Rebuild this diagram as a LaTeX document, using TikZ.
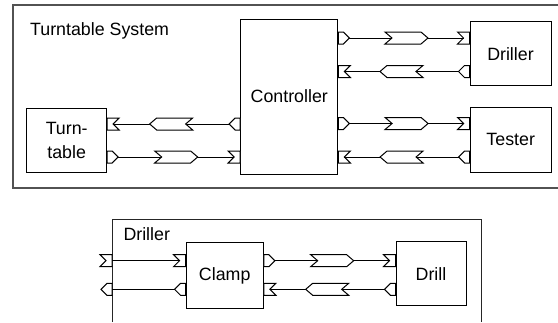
\documentclass[tikz,border=0pt]{standalone}
\usepackage{fontspec}
\setmainfont{Liberation Sans}
\usetikzlibrary{calc}

\tikzset{
  block/.style={draw, line width=1pt, fill=white, inner sep=0pt, align=center,
    font=\fontsize{17.8}{24}\selectfont},
  title/.style={inner sep=0pt, anchor=base west, font=\fontsize{17.8}{21}\selectfont},
  port/.style={draw, line width=1pt, fill=white, line join=miter},
  wire/.style={line width=1pt},
  sysframe/.style={draw=black!68, line width=2pt},
  subframe/.style={draw=black!85, line width=1pt},
  % port leaving a box, pointing along +x
  outport/.pic={
    \draw[port] (0,-6) -- (5,-6) -- (11,0) -- (5,6) -- (0,6) -- cycle;
    \coordinate (-tip) at (11,0);
    \coordinate (-base) at (0,0);
  },
  % port entering a box, signal along +x
  inport/.pic={
    \draw[port] (0,-6) -- (-12,-6) -- (-6,0) -- (-12,6) -- (0,6) -- cycle;
    \coordinate (-tip) at (-6,0);
    \coordinate (-base) at (0,0);
  },
  % signal marker on a wire
  signal/.pic={
    \draw[port] (-21.5,-6) -- (14.5,-6) -- (21.5,0) -- (14.5,6) -- (-21.5,6) -- (-14.5,0) -- cycle;
  }
}

\begin{document}
\begin{tikzpicture}[x=1pt, y=-1pt]
    \useasboundingbox (0,0) rectangle (558,322);

    % Turntable System
    \draw[sysframe] (558,5.3) -- (12.7,5.3) -- (12.7,188.3) -- (558,188.3);
    \node[title] (systitle) at (30,35) {Turntable System};

    \node[block, minimum width=80, minimum height=64] (turntable) at (66.7,140) {Turn-\\table};
    \node[block, minimum width=97.3, minimum height=155] (ctrl) at (289.3,96.5) {Controller};
    \node[block, minimum width=81, minimum height=64.3] (driller) at (510.5,53.8) {Driller};
    \node[block, minimum width=81, minimum height=65] (tester) at (510.7,139.5) {Tester};

    % Controller -> Turntable
    \pic[rotate=180] (ctt) at (ctrl.west |- 0,124) {outport};
    \pic[rotate=180] (ttc) at (turntable.east |- 0,124) {inport};
    \draw[wire] (ctt-tip) -- (ttc-tip);
    \pic[rotate=180] at ($(ctt-tip)!0.5!(ttc-tip)$) {signal};

    % Turntable -> Controller
    \pic (ttout) at (turntable.east |- 0,157) {outport};
    \pic (cin) at (ctrl.west |- 0,157) {inport};
    \draw[wire] (ttout-tip) -- (cin-tip);
    \pic at ($(ttout-tip)!0.5!(cin-tip)$) {signal};

    % Controller -> Driller, Tester
    \foreach \dst/\y in {driller/38, tester/123.5} {
        \pic (o) at (ctrl.east |- 0,\y) {outport};
        \pic (i) at (\dst.west |- 0,\y) {inport};
        \draw[wire] (o-tip) -- (i-tip);
        \pic at ($(o-tip)!0.5!(i-tip)$) {signal};
    }

    % Driller, Tester -> Controller
    \foreach \src/\y in {driller/71.5, tester/157} {
        \pic[rotate=180] (o) at (\src.west |- 0,\y) {outport};
        \pic[rotate=180] (i) at (ctrl.east |- 0,\y) {inport};
        \draw[wire] (o-tip) -- (i-tip);
        \pic[rotate=180] at ($(o-tip)!0.5!(i-tip)$) {signal};
    }

    % Driller (inside)
    \draw[subframe] (112,322) -- (112,219) -- (481,219) -- (481,322);
    \node[title] (drtitle) at (123.3,240.7) {Driller};

    \node[block, minimum width=77.3, minimum height=65.6] (clamp) at (224.7,275.5) {Clamp};
    \node[block, minimum width=70, minimum height=64.3] (drill) at (431,273.8) {Drill};

    % outside -> Clamp
    \pic (xin) at (112,260.7) {inport};
    \pic (clin) at (clamp.west |- 0,260.7) {inport};
    \draw[wire] (xin-base) -- (clin-tip);

    % Clamp -> outside
    \pic[rotate=180] (xout) at (112,289.3) {outport};
    \pic[rotate=180] (clout) at (clamp.west |- 0,289.3) {outport};
    \draw[wire] (xout-base) -- (clout-tip);

    % Clamp -> Drill
    \pic (cd) at (clamp.east |- 0,260.7) {outport};
    \pic (dc) at (drill.west |- 0,260.7) {inport};
    \draw[wire] (cd-tip) -- (dc-tip);
    \pic at ($(cd-tip)!0.5!(dc-tip)$) {signal};

    % Drill -> Clamp
    \pic[rotate=180] (dcl) at (drill.west |- 0,289.3) {outport};
    \pic[rotate=180] (cld) at (clamp.east |- 0,289.3) {inport};
    \draw[wire] (dcl-tip) -- (cld-tip);
    \pic[rotate=180] at ($(dcl-tip)!0.5!(cld-tip)$) {signal};
\end{tikzpicture}
\end{document}
